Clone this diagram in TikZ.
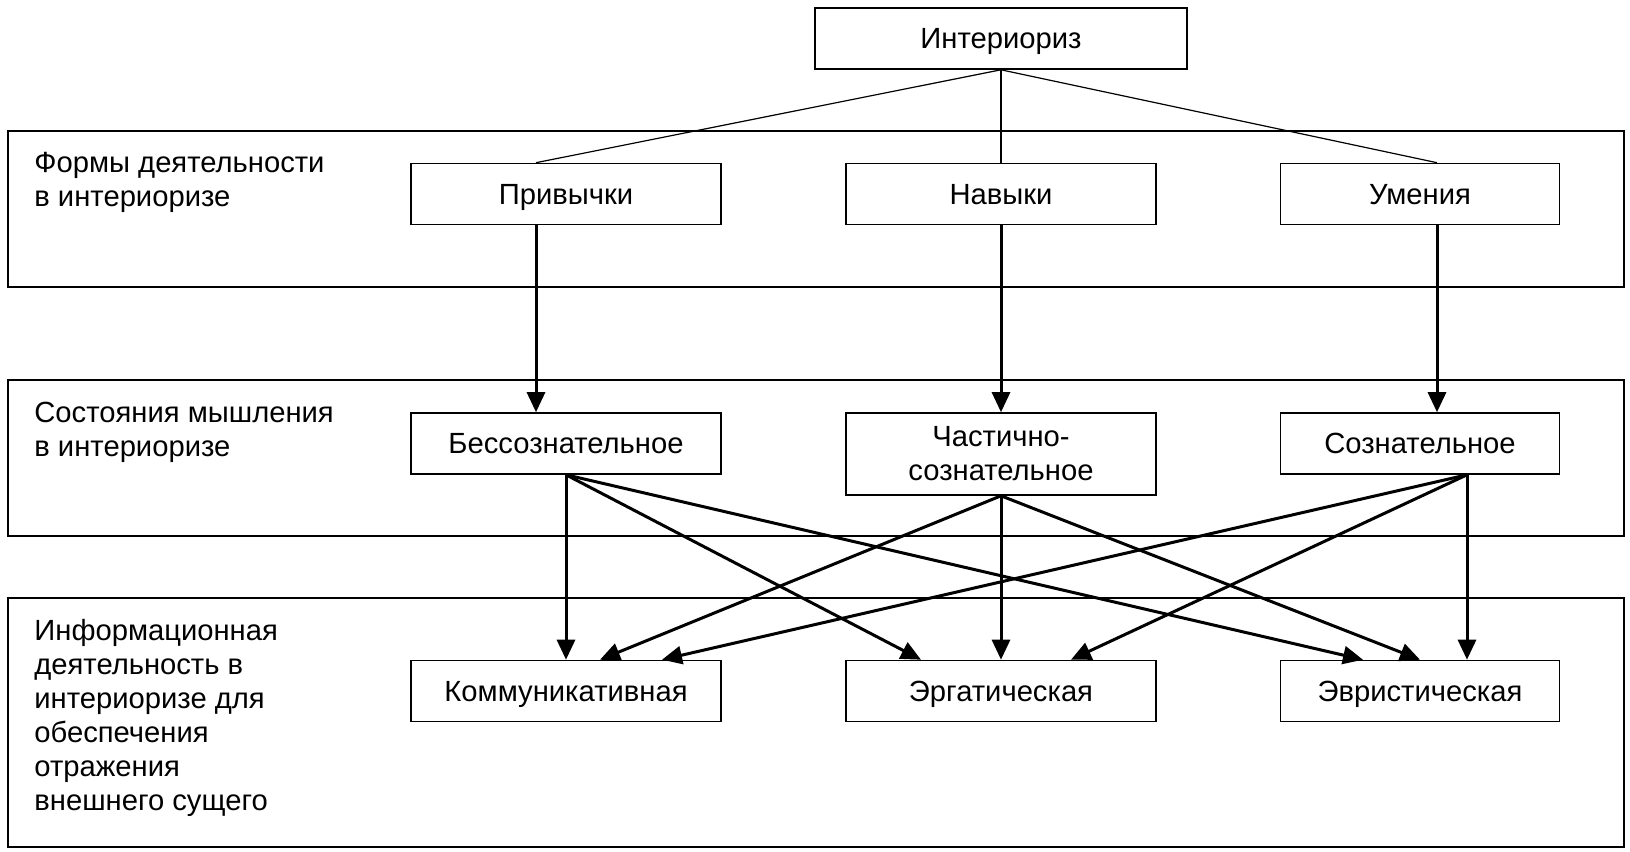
\documentclass[tikz,border=0pt]{standalone}
\usepackage{fontspec}
\setmainfont{Liberation Sans}
\usetikzlibrary{arrows.meta}
\tikzset{
  cell/.style={draw, line width=0.8pt, minimum width=155pt, minimum height=30.5pt, inner sep=0pt, align=center, font=\fontsize{14.6}{17}\selectfont},
  box/.style={cell, text height=10.4pt, text depth=0pt},
  band/.style={draw, line width=0.8pt},
  lbl/.style={anchor=north west, inner sep=0pt, align=left, font=\fontsize{14.6}{17}\selectfont},
  link/.style={line width=0.6pt},
  arr/.style={line width=1.5pt, -{Triangle[length=10pt,width=9pt]}}
}
\begin{document}
\begin{tikzpicture}[x=0.5pt,y=-0.5pt]
\useasboundingbox (0,0) rectangle (1630,852);
\draw[band] (8,131) rectangle (1624,287);
\draw[band] (8,380) rectangle (1624,536);
\draw[band] (8,598) rectangle (1624,847);
\node[lbl] (l1) at (34,152) {Формы деятельности\\в интериоризе};
\node[lbl] (l2) at (34,402) {Состояния мышления\\в интериоризе};
\node[lbl] (l3) at (34,619) {Информационная\\деятельность в\\интериоризе для\\обеспечения\\отражения\\внешнего сущего};
\node[box, minimum width=186pt] (int) at (1001,38.5) {Интериориз};
\node[box] (priv) at (566,194) {Привычки};
\node[box] (nav) at (1001,194) {Навыки};
\node[box, minimum width=139.5pt] (umen) at (1420,194) {Умения};
\node[box] (bess) at (566,443.5) {Бессознательное};
\node[cell, minimum height=41pt] (chast) at (1001,454) {Частично-\\сознательное};
\node[box, minimum width=139.5pt] (soz) at (1420,443.5) {Сознательное};
\node[box] (komm) at (566,691) {Коммуникативная};
\node[box] (erg) at (1001,691) {Эргатическая};
\node[box, minimum width=139.5pt] (evr) at (1420,691) {Эвристическая};
\draw[link] (int.south) -- ([xshift=-15pt]priv.north);
\draw[link] (int.south) -- (nav.north);
\draw[link] (int.south) -- ([xshift=8.5pt]umen.north);
\draw[arr] ([xshift=-15pt]priv.south) -- ([xshift=-15pt]bess.north);
\draw[arr] (nav.south) -- (chast.north);
\draw[arr] ([xshift=8.5pt]umen.south) -- ([xshift=8.5pt]soz.north);
% from the states to the kinds of activity
\draw[arr] (bess.south) -- (komm.north);
\draw[arr] (bess.south) -- ([xshift=-40pt]erg.north);
\draw[arr] (bess.south) -- ([xshift=-28.5pt]evr.north);
\draw[arr] (chast.south) -- ([xshift=17pt]komm.north);
\draw[arr] (chast.south) -- (erg.north);
\draw[arr] (chast.south) -- (evr.north);
\draw[arr] ([xshift=23.5pt]soz.south) -- ([xshift=48pt]komm.north);
\draw[arr] ([xshift=23.5pt]soz.south) -- ([xshift=35pt]erg.north);
\draw[arr] ([xshift=23.5pt]soz.south) -- ([xshift=23.5pt]evr.north);
\end{tikzpicture}
\end{document}
